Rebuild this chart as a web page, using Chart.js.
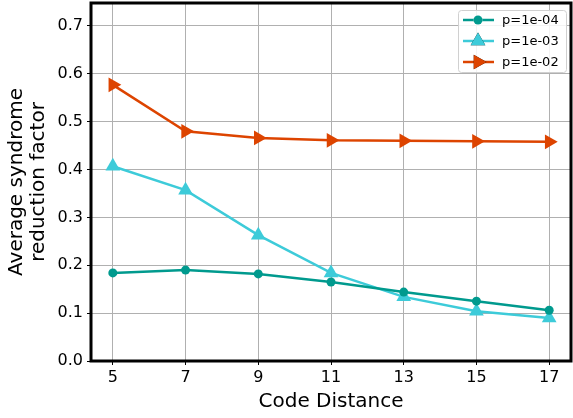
<!DOCTYPE html>
<html>
<head>
<meta charset="utf-8">
<script src="https://cdn.jsdelivr.net/npm/chart.js@4/dist/chart.umd.min.js"></script>
<style>
  body { margin: 0; background: #fff; }
  #wrap { width: 573px; height: 418px; }
</style>
</head>
<body>
<div id="wrap"><canvas id="lineChart"></canvas></div>
<script>
// code distances and values
var distances = [5, 7, 9, 11, 13, 15, 17];
var xTicks = [5, 7, 9, 11, 13, 15, 17];
var yTicks = [0.0, 0.1, 0.2, 0.3, 0.4, 0.5, 0.6, 0.7];
var seriesNames = ['p=1e-04', 'p=1e-03', 'p=1e-02'];
var p1e4 = [0.184, 0.190, 0.182, 0.165, 0.144, 0.125, 0.106];
var p1e3 = [0.407, 0.357, 0.263, 0.184, 0.134, 0.104, 0.090];
var p1e2 = [0.577, 0.480, 0.466, 0.461, 0.460, 0.459, 0.458];

var FONT = 'DejaVu Sans';

function toPoints(vals) {
    return distances.map(function (d, i) { return { x: d, y: vals[i] }; });
}

var styles = [
    { color: '#009a8e', pointStyle: 'circle', radius: 4.5, rotation: 0 },
    { color: '#3dcbd9', pointStyle: 'triangle', radius: 8.5, rotation: 0 },
    { color: '#dd4400', pointStyle: 'triangle', radius: 8.5, rotation: 90 }
];

var allData = [p1e4, p1e3, p1e2];
var datasets = allData.map(function (vals, i) {
    var s = styles[i];
    return {
        label: seriesNames[i],
        data: toPoints(vals),
        borderColor: s.color,
        backgroundColor: s.color,
        borderWidth: 2.5,
        pointStyle: s.pointStyle,
        pointRadius: s.radius,
        pointRotation: s.rotation,
        pointBorderWidth: 0,
        tension: 0
    };
});

// black frame around plot area + matplotlib style legend
var framePlugin = {
    id: 'frame',
    afterDatasetsDraw: function (chart) {
        var ctx = chart.ctx, a = chart.chartArea;
        ctx.save();
        ctx.strokeStyle = '#000';
        ctx.lineWidth = 3;
        ctx.strokeRect(a.left, a.top, a.right - a.left, a.bottom - a.top);

        // legend
        var bx = 458, by = 10, bw = 108, bh = 62;
        ctx.fillStyle = 'rgba(255,255,255,0.85)';
        ctx.strokeStyle = '#d0d0d0';
        ctx.lineWidth = 1;
        ctx.beginPath();
        ctx.roundRect(bx + 0.5, by + 0.5, bw, bh, 3);
        ctx.fill();
        ctx.stroke();
        ctx.font = '13px ' + FONT;
        ctx.textBaseline = 'middle';
        chart.data.datasets.forEach(function (ds, i) {
            var y = by + 10 + i * 21;
            ctx.strokeStyle = ds.borderColor;
            ctx.lineWidth = 2.5;
            ctx.beginPath();
            ctx.moveTo(bx + 5, y);
            ctx.lineTo(bx + 36, y);
            ctx.stroke();
            Chart.helpers.drawPoint(ctx, {
                pointStyle: ds.pointStyle,
                radius: ds.pointRadius,
                rotation: ds.pointRotation,
                borderWidth: 0
            }, bx + 20, y);
            ctx.fillStyle = ds.backgroundColor;
            ctx.fill();
            ctx.fillStyle = '#000';
            ctx.fillText(ds.label, bx + 44, y + 1);
        });
        ctx.restore();
    }
};

var ctx = document.getElementById('lineChart').getContext('2d');
var chart = new Chart(ctx, {
    type: 'line',
    data: { datasets: datasets },
    options: {
        responsive: true,
        maintainAspectRatio: false,
        animation: false,
        layout: { autoPadding: false, padding: { top: 3, right: 2, left: 0, bottom: 0 } },
        plugins: {
            legend: { display: false },
            tooltip: { enabled: false }
        },
        scales: {
            x: {
                type: 'linear',
                min: 4.4,
                max: 17.6,
                afterBuildTicks: function (scale) {
                    scale.ticks = xTicks.map(function (v) { return { value: v }; });
                },
                afterFit: function (scale) {
                    scale.height = 57;
                    scale.paddingLeft = 0;
                    scale.paddingRight = 0;
                },
                grid: { color: '#b0b0b0', lineWidth: 1, tickColor: '#000', tickLength: 4 },
                border: { display: false },
                ticks: { color: '#000', font: { family: FONT, size: 16 }, padding: 3, maxRotation: 0,
                    callback: function (v) { return String(v); } },
                title: { display: true, text: 'Code Distance', color: '#000',
                    font: { family: FONT, size: 20 }, padding: { top: 0, bottom: 4 } }
            },
            y: {
                min: 0,
                max: 0.748,
                afterBuildTicks: function (scale) {
                    scale.ticks = yTicks.map(function (v) { return { value: v }; });
                },
                afterFit: function (scale) {
                    scale.width = 91;
                    scale.paddingTop = 0;
                    scale.paddingBottom = 0;
                },
                grid: { color: '#b0b0b0', lineWidth: 1, tickColor: '#000', tickLength: 4 },
                border: { display: false },
                ticks: { color: '#000', font: { family: FONT, size: 16 }, padding: 4,
                    callback: function (v) { return Number(v).toFixed(1); } },
                title: { display: true, text: ['Average syndrome', 'reduction factor'], color: '#000',
                    font: { family: FONT, size: 20, lineHeight: 1.1 }, padding: { top: 6, bottom: 4 } }
            }
        }
    },
    plugins: [framePlugin]
});
</script>
</body>
</html>
